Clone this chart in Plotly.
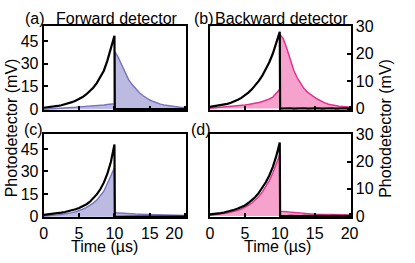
import plotly.graph_objects as go

W, H = 415, 263

# ---------------- data ----------------
t_rise = [0, 0.5, 1, 1.5, 2, 2.5, 3, 3.5, 4, 4.5, 5, 5.5, 6, 6.5, 7, 7.5, 8, 8.5, 9, 9.5, 10]
t_post = [10.05, 10.5, 11, 11.5, 12, 12.5, 13, 13.5, 14, 14.5, 15, 15.5, 16, 16.5, 17, 17.5,
          18, 18.5, 19, 19.5, 20, 20.2]

# (a) forward detector, forward pumping
a_black_rise = [0.9, 1.1, 1.4, 1.7, 2.1, 2.6, 3.1, 3.8, 4.6, 5.5, 6.6, 8.0, 9.7, 11.7, 14.1, 17.2,
                20.9, 25.4, 32.0, 40.0, 48.5]
a_black_post = [0.0, -0.1, 0.0, -0.1, 0.0, 0.0, -0.1, 0.0, 0.0, -0.1, 0.0, 0.0, -0.1, 0.0, 0.0,
                -0.1, 0.0, 0.0, -0.1, 0.0, 0.0, 0.0]
a_color_rise = [0.0, 0.1, 0.3, 0.4, 0.6, 0.7, 0.9, 1.0, 1.2, 1.3, 1.5, 1.6, 1.8, 1.9, 2.1, 2.3,
                2.5, 2.7, 3.0, 3.2, 3.5]
a_color_post = [38.0, 34.5, 29.5, 24.0, 19.5, 16.2, 13.5, 11.0, 9.0, 7.3, 6.0, 5.0, 4.0, 3.3, 2.7,
                2.3, 1.9, 1.6, 1.3, 1.1, 1.0, 1.0]

# (b) backward detector, forward pumping
b_black_rise = [0.6, 0.8, 1.0, 1.2, 1.4, 1.7, 2.1, 2.6, 3.2, 3.9, 4.8, 5.8, 7.0, 8.4, 10.1, 12.0,
                14.2, 16.9, 20.0, 23.8, 28.0]
b_black_post = [0.0, 0.1, 0.0, 0.1, 0.0, 0.1, 0.0, 0.1, 0.0, 0.1, 0.0, 0.1, 0.0, 0.1, 0.0, 0.1,
                0.0, 0.1, 0.0, 0.1, 0.0, 0.0]
b_color_rise = [0.1, 0.2, 0.3, 0.4, 0.5, 0.6, 0.7, 0.9, 1.0, 1.2, 1.3, 1.5, 1.7, 1.9, 2.2, 2.6,
                3.0, 3.5, 4.2, 5.5, 7.0]
b_color_post = [27.0, 25.5, 22.0, 18.0, 14.0, 11.2, 9.0, 7.2, 5.9, 4.9, 4.1, 3.3, 2.6, 2.0, 1.6,
                1.3, 1.0, 0.8, 0.7, 0.6, 0.5, 0.5]

# (c) forward detector, backward pumping
c_black_rise = [1.2, 1.4, 1.6, 1.9, 2.3, 2.7, 3.1, 3.6, 4.2, 4.9, 5.7, 6.8, 8.1, 9.8, 12.0, 14.8,
                18.2, 22.6, 28.5, 36.5, 48.0]
c_black_post = [0.0, -0.1, 0.0, -0.1, 0.0, 0.0, -0.1, 0.0, 0.0, -0.1, 0.0, 0.0, -0.1, 0.0, 0.0,
                -0.1, 0.0, 0.0, -0.1, 0.0, 0.0, 0.0]
c_color_rise = [0.5, 0.6, 0.8, 1.0, 1.2, 1.5, 1.8, 2.2, 2.7, 3.3, 4.0, 4.9, 6.0, 7.4, 9.0, 11.0,
                13.6, 16.9, 22.0, 27.5, 32.5]
c_color_post = [2.6, 2.4, 2.2, 2.0, 1.9, 1.8, 1.7, 1.6, 1.5, 1.4, 1.3, 1.2, 1.2, 1.1, 1.0, 1.0,
                0.9, 0.9, 0.9, 0.8, 0.8, 0.8]

# (d) backward detector, backward pumping
d_black_rise = [0.6, 0.7, 0.9, 1.1, 1.3, 1.6, 1.9, 2.3, 2.8, 3.3, 3.9, 4.8, 5.8, 7.0, 8.5, 10.3,
                12.4, 14.9, 18.0, 22.0, 27.0]
d_black_post = [0.0, -0.1, 0.0, 0.1, 0.0, -0.1, 0.0, 0.1, 0.0, -0.1, 0.0, 0.1, 0.0, -0.1, 0.0,
                0.1, 0.0, -0.1, 0.0, 0.1, 0.0, 0.0]
d_color_rise = [0.3, 0.4, 0.5, 0.7, 0.9, 1.1, 1.4, 1.7, 2.1, 2.6, 3.2, 3.9, 4.8, 5.9, 7.2, 8.8,
                10.7, 13.0, 15.8, 19.0, 22.5]
d_color_post = [1.8, 1.7, 1.5, 1.3, 1.1, 1.0, 0.9, 0.9, 0.8, 0.8, 0.7, 0.7, 0.6, 0.6, 0.6, 0.5,
                0.5, 0.5, 0.5, 0.4, 0.4, 0.4]

x_ticks = [0, 5, 10, 15, 20]
x_ticktext_c = ["0", "5", "10", "15", "20\u2007\u2007\u2008"]
x_ticktext_d = ["0", "5", "10", "15", "20"]
y_ticks_left = [0, 15, 30, 45]
y_ticks_right = [0, 10, 20, 30]

panel_labels = ["(a)", "(b)", "(c)", "(d)"]
column_titles = ["Forward detector", "Backward detector"]
y_title = "Photodetector (mV)"
x_title = "Time (µs)"

PURPLE = "#7a75c2"
PURPLE_FILL = "rgba(122,117,194,0.5)"
PINK = "#e8328f"
PINK_FILL = "rgba(236,70,155,0.5)"

FONT = "Liberation Sans, Arial, sans-serif"

fig = go.Figure()

panels = [
    (a_black_rise, a_black_post, a_color_rise, a_color_post, PURPLE, PURPLE_FILL, "x", "y"),
    (b_black_rise, b_black_post, b_color_rise, b_color_post, PINK, PINK_FILL, "x2", "y2"),
    (c_black_rise, c_black_post, c_color_rise, c_color_post, PURPLE, PURPLE_FILL, "x3", "y3"),
    (d_black_rise, d_black_post, d_color_rise, d_color_post, PINK, PINK_FILL, "x4", "y4"),
]

for br, bp, cr, cp, col, fillc, xa, ya in panels:
    fig.add_trace(go.Scatter(x=t_rise + t_post, y=cr + cp, mode="lines",
                             line=dict(color=col, width=1.5), fill="tozeroy", fillcolor=fillc,
                             xaxis=xa, yaxis=ya, showlegend=False, hoverinfo="skip"))
    fig.add_trace(go.Scatter(x=t_rise + t_post, y=br + bp, mode="lines",
                             line=dict(color="black", width=2.2),
                             xaxis=xa, yaxis=ya, showlegend=False, hoverinfo="skip"))


def px_x(p):
    return p / W


def px_y(p):
    return 1 - p / H


left_dom = [px_x(42), px_x(193)]
right_dom = [px_x(218), px_x(367)]
top_dom = [px_y(108.5), px_y(19)]
bot_dom = [px_y(223), px_y(134)]

ax_common = dict(showline=True, linecolor="black", linewidth=2, mirror=True,
                 ticks="inside", ticklen=4, tickwidth=1.5, tickcolor="black",
                 showgrid=False, zeroline=False,
                 tickfont=dict(family=FONT, size=16, color="black"))

xr = [0, 20.15]
fig.update_layout(
    xaxis=dict(domain=left_dom, anchor="y", range=xr, tickvals=x_ticks, showticklabels=False, **ax_common),
    yaxis=dict(domain=top_dom, anchor="x", range=[-0.5, 55], tickvals=y_ticks_left, side="left", **ax_common),
    xaxis2=dict(domain=right_dom, anchor="y2", range=xr, tickvals=x_ticks, showticklabels=False, **ax_common),
    yaxis2=dict(domain=top_dom, anchor="x2", range=[-0.5, 30.2], tickvals=y_ticks_right, side="right", **ax_common),
    xaxis3=dict(domain=left_dom, anchor="y3", range=xr, tickvals=x_ticks, ticktext=x_ticktext_c, **ax_common),
    yaxis3=dict(domain=bot_dom, anchor="x3", range=[-0.5, 55], tickvals=y_ticks_left, side="left", **ax_common),
    xaxis4=dict(domain=right_dom, anchor="y4", range=xr, tickvals=x_ticks, ticktext=x_ticktext_d, **ax_common),
    yaxis4=dict(domain=bot_dom, anchor="x4", range=[-0.5, 30.2], tickvals=y_ticks_right, side="right", **ax_common),
    width=W, height=H,
    margin=dict(l=0, r=0, t=0, b=0),
    paper_bgcolor="white", plot_bgcolor="white",
    font=dict(family=FONT, size=16, color="black"),
)

ann = []


def add_text(text, x, y, xanchor="center", angle=0):
    ann.append(dict(text=text, x=px_x(x), y=px_y(y), xref="paper", yref="paper",
                    xanchor=xanchor, yanchor="middle", showarrow=False, textangle=angle,
                    font=dict(family=FONT, size=16, color="black")))


add_text(panel_labels[0], 20, 11, "left")
add_text(column_titles[0], 53, 11, "left")
add_text(panel_labels[1], 199, 11, "left")
add_text(column_titles[1], 221, 11, "left")
add_text(panel_labels[2], 19, 129, "left")
add_text(panel_labels[3], 196, 129, "left")
add_text(y_title, 8, 127.5, "center", -90)
add_text(y_title, 404, 128, "center", -90)
add_text(x_title, 106, 253.5)
add_text(x_title, 290, 253.5)

fig.update_layout(annotations=ann)

fig.write_html("out.html", config={"displayModeBar": False},
               post_script="document.body.style.margin='0';document.body.style.overflow='hidden';")
